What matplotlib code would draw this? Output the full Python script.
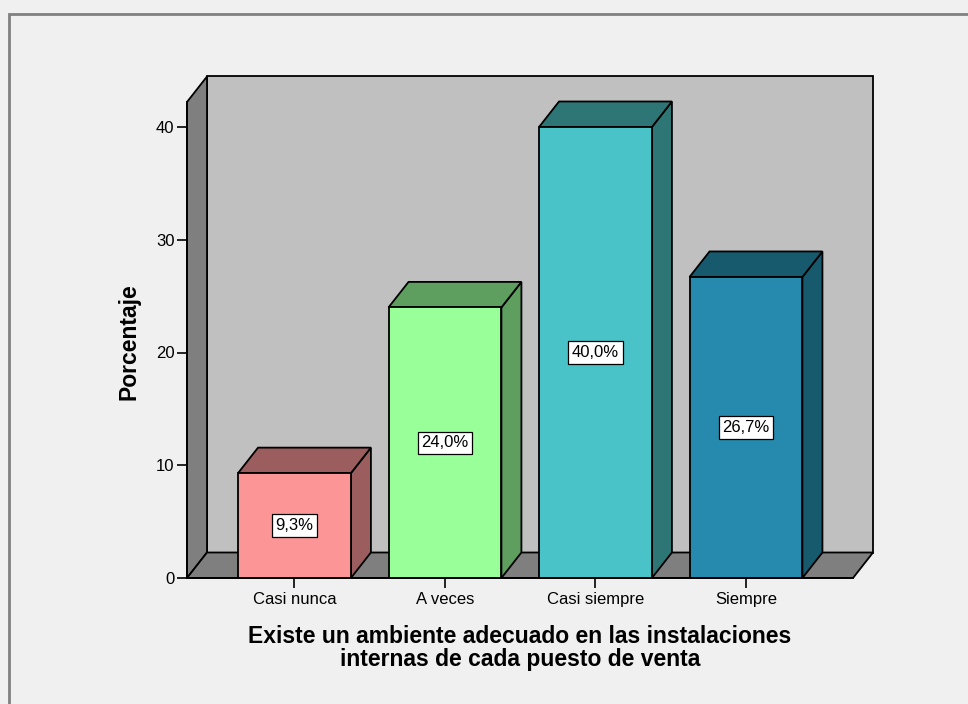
import matplotlib
matplotlib.use("Agg")
import matplotlib.pyplot as plt
from matplotlib.patches import Rectangle, Polygon

categories = ["Casi nunca", "A veces", "Casi siempre", "Siempre"]
values = [9.3, 24.0, 40.0, 26.7]
value_labels = ["9,3%", "24,0%", "40,0%", "26,7%"]
front_colors = ["#FC9696", "#99FF99", "#49C3C8", "#258AAD"]
side_colors = ["#9B5D5D", "#5E9E5E", "#2E7676", "#175A6E"]
yticks = [0, 10, 20, 30, 40]
xlabel = "Existe un ambiente adecuado en las instalaciones\ninternas de cada puesto de venta"
ylabel = "Porcentaje"

plt.rcParams["font.family"] = ["Liberation Sans", "DejaVu Sans"]

W, H = 968, 704
fig = plt.figure(figsize=(W / 100, H / 100), dpi=100)
fig.patch.set_facecolor("#F0F0F0")

# outer frame
fig.patches.append(Rectangle((8.5 / W, -0.1), 1.2, 1 - 13.5 / H + 0.1,
                             transform=fig.transFigure, facecolor="none",
                             edgecolor="#808080", linewidth=2))

left_px, right_px, bottom_px, top_px = 187, 853, 578, 102
ax = fig.add_axes([left_px / W, 1 - bottom_px / H,
                   (right_px - left_px) / W, (bottom_px - top_px) / H])
ax.patch.set_visible(False)

x0, x1 = -0.714, 3.711
ymax = (bottom_px - top_px) / 11.275
ax.set_xlim(x0, x1)
ax.set_ylim(0, ymax)

DX = 20 / 150.5
DY = 25.5 / 11.275
wall_gray = "#7F7F7F"
lw = 1.3

# back wall
ax.add_patch(Rectangle((x0 + DX, DY), x1 - x0, ymax, facecolor="#C0C0C0",
                       edgecolor="black", linewidth=lw, clip_on=False, zorder=1))
# left wall
ax.add_patch(Polygon([(x0, 0), (x0 + DX, DY), (x0 + DX, ymax + DY), (x0, ymax)],
                     closed=True, facecolor=wall_gray, edgecolor="black",
                     linewidth=lw, clip_on=False, zorder=1))
# floor
ax.add_patch(Polygon([(x0, 0), (x1, 0), (x1 + DX, DY), (x0 + DX, DY)],
                     closed=True, facecolor=wall_gray, edgecolor="black",
                     linewidth=lw, clip_on=False, zorder=1))

bw = 0.75
for i, (v, fc, sc, lab) in enumerate(zip(values, front_colors, side_colors, value_labels)):
    l, r = i - bw / 2, i + bw / 2
    ax.add_patch(Polygon([(r, 0), (r + DX, DY), (r + DX, v + DY), (r, v)], closed=True,
                         facecolor=sc, edgecolor="black", linewidth=lw,
                         clip_on=False, zorder=2))
    ax.add_patch(Polygon([(l, v), (r, v), (r + DX, v + DY), (l + DX, v + DY)], closed=True,
                         facecolor=sc, edgecolor="black", linewidth=lw,
                         clip_on=False, zorder=2))
    ax.add_patch(Rectangle((l, 0), bw, v, facecolor=fc, edgecolor="black",
                           linewidth=lw, clip_on=False, zorder=3))
    ax.text(i, v / 2, lab, ha="center", va="center", fontsize=12, zorder=4,
            bbox=dict(boxstyle="square,pad=0.22", facecolor="white",
                      edgecolor="black", linewidth=0.9))

for s in ["top", "right"]:
    ax.spines[s].set_visible(False)
for s in ["left", "bottom"]:
    ax.spines[s].set_linewidth(lw)
    ax.spines[s].set_zorder(5)

ax.set_yticks(yticks)
ax.set_yticklabels([str(t) for t in yticks])
ax.set_xticks(range(len(categories)))
ax.set_xticklabels(categories)
ax.tick_params(axis="y", length=7, width=1.2, labelsize=12, pad=2)
ax.tick_params(axis="x", length=7, width=1.2, labelsize=12, pad=3)

ax.set_ylabel(ylabel, fontsize=16.5, fontweight="bold", va="center")
ax.yaxis.set_label_coords((129 - left_px) / (right_px - left_px),
                          (bottom_px - 342) / (bottom_px - top_px))

fig.text(520 / W, 1 - 648 / H, xlabel, ha="center", va="center",
         fontsize=16.5, fontweight="bold", linespacing=0.95)

fig.savefig("out.png", dpi=100, facecolor=fig.get_facecolor())
